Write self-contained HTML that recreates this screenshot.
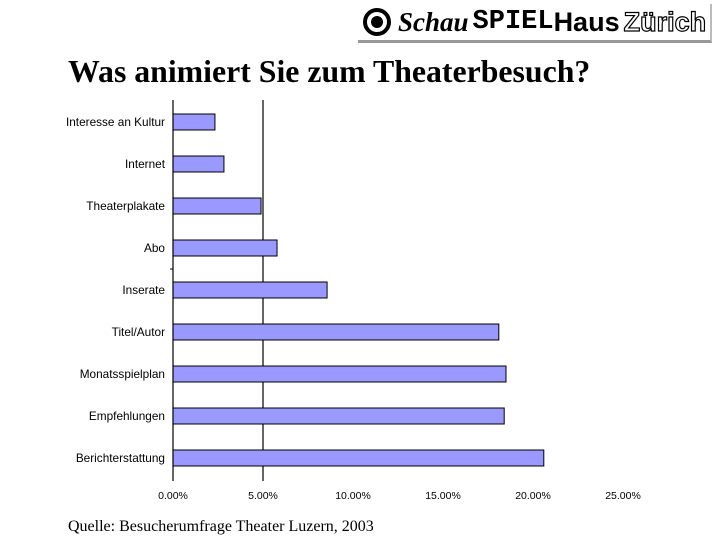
<!DOCTYPE html>
<html><head><meta charset="utf-8"><style>
body{margin:0;width:720px;height:540px;background:#fff;overflow:hidden;position:relative;font-family:"Liberation Sans",sans-serif}
#logo{position:absolute;left:358px;top:4px;width:352px;height:36px;border-bottom:3px solid #999;border-right:2px solid #bbb;display:flex;align-items:center;font-weight:bold;font-size:27px;color:#000;white-space:nowrap}
#title{position:absolute;left:68px;top:56px;font-family:"Liberation Serif",serif;font-size:31.8px;font-weight:bold;line-height:1;white-space:nowrap}
#src{position:absolute;left:68px;top:519px;font-family:"Liberation Serif",serif;font-size:16px;line-height:1}
</style></head><body>
<div id="logo">
<svg width="30" height="30" style="margin:0 6px 0 4px"><circle cx="15" cy="15" r="12" fill="none" stroke="#000" stroke-width="4"/><circle cx="15" cy="15" r="6" fill="#000"/></svg>
<span style="font-style:italic;font-family:'Liberation Serif',serif">Schau</span><span style="font-family:'Liberation Mono',monospace;margin-left:4px">SPIEL</span><span>Haus</span><span style="color:#fff;-webkit-text-stroke:1.2px #000;margin-left:4px">Zürich</span>
</div>
<div id="title">Was animiert Sie zum Theaterbesuch?</div>
<svg id="chart" width="720" height="540" style="position:absolute;left:0;top:0"></svg>
<div id="src">Quelle: Besucherumfrage Theater Luzern, 2003</div>
<script>
const categories=["Interesse an Kultur","Internet","Theaterplakate","Abo","Inserate","Titel/Autor","Monatsspielplan","Empfehlungen","Berichterstattung"];
const values=[2.33,2.83,4.89,5.78,8.56,18.1,18.5,18.4,20.6];
const ticks=[0,5,10,15,20,25];
const tickLabels=["0.00%","5.00%","10.00%","15.00%","20.00%","25.00%"];
const svg=document.getElementById('chart');const NS="http://www.w3.org/2000/svg";
const x=v=>173+v*18;const y=i=>122+i*42;
function mk(t,a){const e=document.createElementNS(NS,t);for(const k in a)e.setAttribute(k,a[k]);svg.appendChild(e);return e;}
ticks.forEach((t,i)=>{
 if(t===5){const g=mk('line',{x1:x(t),x2:x(t),y1:100,y2:481,stroke:'#000','stroke-width':1.2});
 
 }
 const l=mk('text',{x:x(t),y:499,'text-anchor':'middle','font-size':10.5,'font-family':'Liberation Sans, sans-serif'});l.textContent=tickLabels[i];
 
 
});
categories.forEach((c,i)=>{
 const r=mk('rect',{x:x(0),y:y(i)-8,width:x(values[i])-x(0),height:16,fill:'#9999ff',stroke:'#000','stroke-width':1});
 
 
 const t=mk('text',{x:165,y:y(i)+4,'text-anchor':'end','font-size':11.8,'font-family':'Liberation Sans, sans-serif'});t.textContent=c;
 
 
});
const ax=mk('line',{x1:173,x2:173,y1:100,y2:481,stroke:'#000','stroke-width':1.2});


const tk=mk('line',{x1:170,x2:173,y1:269,y2:269,stroke:'#000'});


</script>
</body></html>
